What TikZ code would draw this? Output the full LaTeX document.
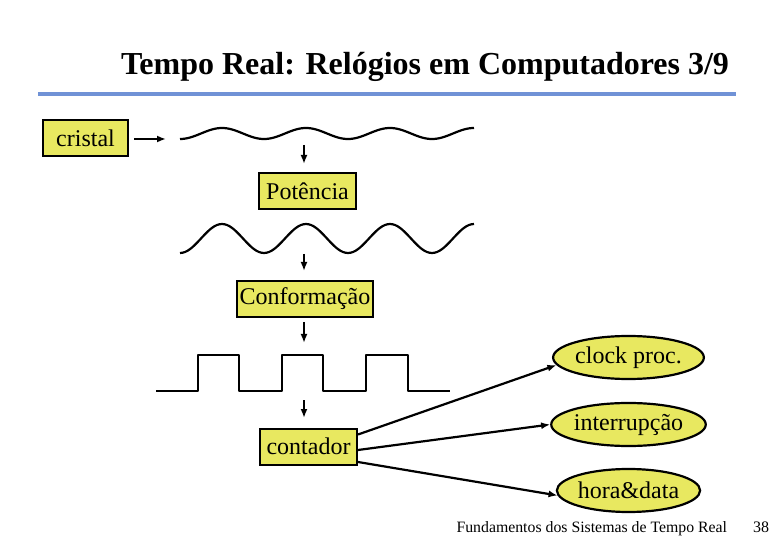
\documentclass[tikz,border=0pt]{standalone}
\usepackage{fontspec}
\setmainfont{Liberation Serif}
\usepackage{tikz}
\usetikzlibrary{arrows.meta,shapes.geometric}

\definecolor{ruleblue}{RGB}{112,146,214}
\definecolor{boxyellow}{RGB}{232,232,96}

\tikzset{
  stagebox/.style={draw=black, line width=2pt, fill=boxyellow, inner sep=0pt,
    minimum height=36pt, font=\fontsize{24}{28}\selectfont},
  outbox/.style={ellipse, draw=black, line width=2.2pt, fill=boxyellow, inner sep=0pt,
    minimum width=139pt, minimum height=43pt, font=\fontsize{24}{28}\selectfont},
  signal/.style={line width=2.2pt, line join=round},
  flow/.style={line width=2.2pt, -{Latex[length=9pt,width=7pt]}}
}

\begin{document}
\begin{tikzpicture}[x=1pt,y=-1pt]

\useasboundingbox (0,0) rectangle (780,540);

% titulo
\node (title) at (425,67) {\fontsize{32}{36}\selectfont\bfseries Tempo Real: Relógios em Computadores 3/9};
\coordinate (ruleL) at (38,94);
\coordinate (ruleR) at (736,94);
\draw [ruleblue, line width=3.2pt] (ruleL) -- (ruleR);

% blocos
\node [stagebox, minimum width=85pt]  (cristal) at (85.5,138)  {cristal};
\node [stagebox, minimum width=97pt]  (pot)     at (307.5,191) {Potência};
\node [stagebox, minimum width=136pt] (conf)    at (305,299)   {Conformação};
\node [stagebox, minimum width=97pt]  (cont)    at (308.5,446.5) {contador};

\node [outbox] (clock) at (628.5,357.5) {clock proc.};
\node [outbox] (irq)   at (628.5,424.5) {interrupção};
\node [outbox] (hora)  at (628.5,490.5) {hora\&data};

% sinais
\draw [signal] plot [domain=0:294, samples=120] (180+\x, {133.5+5.5*cos(\x*4.285714)});
\draw [signal] plot [domain=0:294, samples=120] (180+\x, {238.5+14.5*cos(\x*4.285714)});
\draw [signal] (156,391) -- (198,391) -- (198,355) -- (239,355) -- (239,391)
  -- (282,391) -- (282,355) -- (323,355) -- (323,391)
  -- (366,391) -- (366,355) -- (408,355) -- (408,391) -- (450,391);

% setas
\coordinate (c1) at (134,139);
\coordinate (c2) at (166,139);
\draw [flow] (c1) -- (c2);

\coordinate (a1) at (304,145);
\coordinate (b1) at (304,164);
\coordinate (a2) at (304,254);
\coordinate (b2) at (304,271);
\coordinate (a3) at (304,322);
\coordinate (b3) at (304,343);
\coordinate (a4) at (304,400);
\coordinate (b4) at (304,418);
\foreach \i in {1,2,3,4}
    \draw [flow] (a\i) -- (b\i);

\draw [flow] ([yshift=12pt]cont.east) -- (clock.186);
\draw [flow] ([yshift=-3.5pt]cont.east) -- (irq.west);
\draw [flow] ([yshift=-15.5pt]cont.east) -- (hora.184);

% rodape
\node [anchor=base west, font=\fontsize{15.8}{18}\selectfont] (foot) at (453,532) {Fundamentos dos Sistemas de Tempo Real};
\node [anchor=base, font=\fontsize{16}{18}\selectfont] (page) at (761,532) {38};

\end{tikzpicture}
\end{document}
